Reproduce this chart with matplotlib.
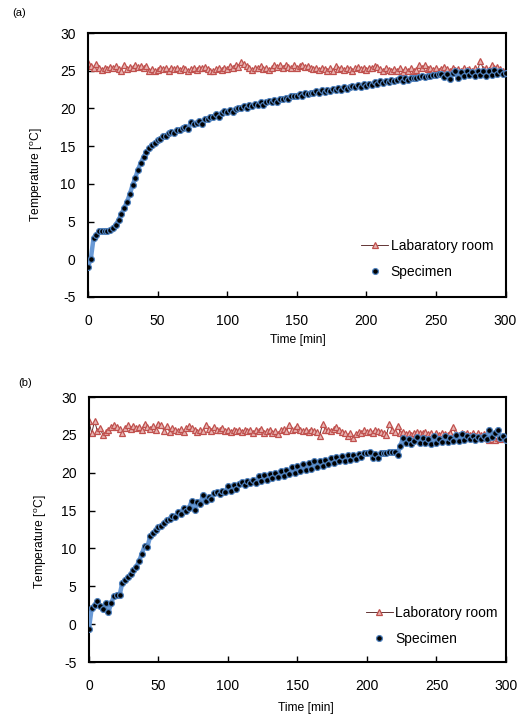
import matplotlib
matplotlib.use("Agg")
import matplotlib.pyplot as plt
import numpy as np

plt.rcParams['font.family'] = ['Liberation Sans', 'DejaVu Sans']
plt.rcParams['mathtext.fontset'] = 'custom'
plt.rcParams['mathtext.rm'] = 'Liberation Sans'
plt.rcParams['axes.unicode_minus'] = False

time_min = list(range(0, 301, 2))

spec_a = [-1.0, 0.0, 2.8, 3.2, 3.7, 3.8, 3.8, 3.8, 3.9, 4.1,
          4.6, 5.2, 6.0, 6.8, 7.6, 8.6, 9.8, 10.8, 11.9, 12.8,
          13.6, 14.2, 14.7, 15.2, 15.4, 15.8, 16.0, 16.3, 16.4, 16.7,
          16.9, 16.8, 17.2, 17.1, 17.4, 17.6, 17.3, 18.2, 17.9, 18.1,
          18.3, 18.0, 18.6, 18.6, 18.8, 18.9, 19.2, 18.9, 19.4, 19.6,
          19.5, 19.8, 19.5, 19.9, 20.0, 20.1, 20.3, 20.1, 20.5, 20.3,
          20.6, 20.4, 20.8, 20.5, 20.8, 21.0, 20.8, 21.1, 20.9, 21.3,
          21.2, 21.4, 21.2, 21.6, 21.7, 21.6, 21.9, 21.7, 22.0, 21.9,
          22.1, 22.0, 22.3, 22.1, 22.4, 22.2, 22.5, 22.3, 22.6, 22.5,
          22.7, 22.5, 22.8, 22.6, 22.9, 23.0, 22.8, 23.1, 22.9, 23.2,
          23.0, 23.3, 23.1, 23.5, 23.2, 23.6, 23.4, 23.7, 23.5, 23.8,
          23.6, 23.8, 24.0, 23.7, 24.0, 23.8, 24.0, 24.1, 24.1, 24.2,
          24.3, 24.2, 24.3, 24.3, 24.4, 24.4, 24.5, 24.5, 24.2, 24.6,
          23.9, 24.7, 24.9, 24.1, 24.8, 24.3, 24.9, 24.4, 24.8, 24.3,
          25.0, 24.4, 25.0, 24.3, 25.0, 24.4, 25.1, 24.6, 24.9, 24.5,
          24.7]

room_a = [26.0, 25.6, 25.3, 25.9, 25.4, 25.1, 25.3, 25.2, 25.5, 25.3,
          25.6, 25.2, 25.0, 25.8, 25.2, 25.5, 25.3, 25.7, 25.5, 25.6,
          25.4, 25.6, 25.0, 25.2, 24.9, 25.1, 25.3, 25.2, 25.4, 25.0,
          25.3, 25.2, 25.4, 25.1, 25.3, 25.2, 24.9, 25.2, 25.3, 25.1,
          25.4, 25.3, 25.5, 25.2, 25.0, 24.9, 25.2, 25.4, 25.1, 25.3,
          25.2, 25.6, 25.4, 25.8, 25.5, 26.2, 25.9, 25.6, 25.3, 25.1,
          25.4, 25.3, 25.6, 25.2, 25.3, 25.1, 25.4, 25.8, 25.5, 25.7,
          25.4, 25.8, 25.5, 25.3, 25.7, 25.4, 25.6, 25.8, 25.5, 25.6,
          25.3, 25.2, 25.4, 25.1, 25.3, 25.2, 25.0, 25.3, 25.0, 25.6,
          25.2, 25.4, 25.1, 25.3, 25.2, 25.0, 25.3, 25.5, 25.2, 25.3,
          25.1, 25.4, 25.3, 25.6, 25.5, 25.2, 25.0, 25.3, 25.1, 24.9,
          25.2, 25.0, 25.3, 24.8, 25.2, 25.0, 25.3, 24.9, 25.1, 25.7,
          25.3, 25.8, 25.2, 25.4, 25.1, 25.3, 25.0, 25.2, 25.5, 25.2,
          25.0, 25.3, 25.1, 25.2, 25.0, 25.3, 25.1, 25.2, 25.0, 25.3,
          25.1, 26.3, 25.2, 25.4, 25.1, 25.7, 25.3, 25.5, 25.2, 24.9,
          25.0]

spec_b = [-0.6, 2.2, 2.5, 3.0, 2.4, 2.0, 2.8, 1.6, 2.8, 3.7,
          3.9, 3.8, 5.5, 5.8, 6.2, 6.6, 7.1, 7.6, 8.3, 9.3,
          10.3, 10.2, 11.6, 12.0, 12.4, 12.8, 13.0, 13.4, 13.8, 13.9,
          14.3, 14.2, 14.8, 14.6, 15.4, 15.0, 15.4, 16.3, 15.1, 16.2,
          15.9, 17.0, 16.3, 16.8, 16.6, 17.3, 17.4, 17.2, 17.6, 17.4,
          18.2, 17.6, 18.4, 17.9, 18.5, 18.8, 18.4, 18.9, 18.6, 19.1,
          18.7, 19.6, 18.9, 19.7, 19.1, 19.8, 19.3, 20.0, 19.4, 20.2,
          19.6, 20.4, 19.8, 20.7, 20.0, 20.9, 20.3, 21.1, 20.4, 21.3,
          20.5, 21.5, 20.7, 21.6, 20.9, 21.7, 21.1, 21.9, 21.3, 22.1,
          21.5, 22.2, 21.6, 22.3, 21.7, 22.4, 21.8, 22.5, 22.1, 22.6,
          22.6, 22.7, 22.0, 22.5, 21.9, 22.6, 22.6, 22.6, 22.7, 22.7,
          22.8, 22.4, 23.6, 24.6, 24.0, 24.5, 23.8, 24.2, 24.7, 23.9,
          24.6, 24.0, 24.4, 23.8, 24.8, 24.0, 24.5, 24.1, 24.9, 24.1,
          24.6, 24.2, 25.0, 24.2, 25.1, 24.3, 24.9, 24.4, 24.8, 24.3,
          24.7, 24.4, 24.8, 24.5, 25.6, 24.7, 25.2, 25.7, 24.6, 24.9,
          24.3]

room_b = [26.8, 25.2, 26.9, 25.5, 25.9, 25.0, 25.4, 25.7, 26.1, 26.3,
          26.0, 25.8, 25.3, 25.9, 26.3, 25.8, 26.2, 25.9, 26.1, 25.7,
          26.5, 26.1, 25.8, 26.2, 25.6, 26.4, 26.3, 25.5, 26.2, 25.4,
          25.9, 25.7, 25.5, 25.8, 25.4, 25.9, 26.2, 25.9, 25.6, 25.4,
          25.6, 25.5, 26.3, 25.8, 25.5, 26.1, 25.7, 25.6, 25.9, 25.5,
          25.7, 25.4, 25.6, 25.5, 25.7, 25.4, 25.6, 25.5, 25.7, 25.3,
          25.6, 25.5, 25.8, 25.3, 25.5, 25.6, 25.3, 25.5, 25.1, 25.6,
          25.8, 25.5, 26.3, 25.6, 25.8, 26.2, 25.6, 25.5, 25.6, 25.4,
          25.6, 25.5, 25.4, 24.9, 26.5, 25.7, 25.6, 25.5, 25.8, 26.1,
          25.6, 25.4, 25.2, 24.8, 25.3, 24.6, 25.1, 25.4, 25.3, 25.6,
          25.4, 25.5, 25.3, 25.6, 25.5, 25.4, 25.2, 25.0, 26.4, 25.7,
          25.4, 26.2, 25.3, 25.4, 25.1, 25.3, 25.0, 25.3, 25.4, 25.2,
          25.3, 25.4, 25.1, 25.3, 24.9, 25.2, 25.0, 25.3, 25.1, 25.0,
          25.2, 26.0, 25.1, 25.0, 25.2, 25.1, 25.3, 25.0, 25.2, 24.9,
          25.2, 25.0, 25.1, 24.6, 24.3, 24.5, 24.3, 24.6, 24.5, 24.7,
          24.6]

panels = [
    dict(label='(a)', spec=spec_a, room=room_a, room_name='Labaratory room',
         rect=[0.1663, 0.5852, 0.7893, 0.3687], tag_xy=(12, 13),
         xl_xy=(298, 340), yl_xy=(37, 175), leg=(0.655, 0.07)),
    dict(label='(b)', spec=spec_b, room=room_b, room_name='Laboratory room',
         rect=[0.1682, 0.0754, 0.7883, 0.3700], tag_xy=(18, 383),
         xl_xy=(306, 708), yl_xy=(41, 542), leg=(0.665, 0.06)),
]

W, H = 529, 716
fig = plt.figure(figsize=(W / 100, H / 100), dpi=100)

red_edge = '#c0504d'
red_face = '#e8b4b2'
red_line = '#4a1414'
blue = '#4f81bd'

for p in panels:
    ax = fig.add_axes(p['rect'])
    ax.plot(time_min, p['room'], color=red_line, lw=0.6, marker='^',
            ms=3.8, mfc=red_face, mec=red_edge, mew=0.9,
            label=p['room_name'], zorder=2)
    ax.plot(time_min, p['spec'], color='#6a9ad6', lw=3.2, zorder=3,
            solid_capstyle='round')
    ax.plot(time_min, p['spec'], ls='none', marker='o', ms=4.2,
            mfc='black', mec=blue, mew=0.9, label='Specimen', zorder=4)
    ax.set_xlim(0, 300)
    ax.set_ylim(-5, 30)
    ax.set_xticks([0, 50, 100, 150, 200, 250, 300])
    ax.set_yticks([-5, 0, 5, 10, 15, 20, 25, 30])
    ax.tick_params(direction='in', length=4, width=1, labelsize=10)
    ax.tick_params(axis='x', pad=12)
    ax.tick_params(axis='y', pad=9)
    for s in ax.spines.values():
        s.set_linewidth(1.5)
    leg = ax.legend(loc='lower left', bbox_to_anchor=p['leg'], frameon=False,
                    fontsize=10, handlelength=1.9, handletextpad=0.2,
                    labelspacing=0.85, borderpad=0, borderaxespad=0)
    fig.text(p['tag_xy'][0] / W, 1 - p['tag_xy'][1] / H, p['label'],
             fontsize=8, ha='left', va='center')
    fig.text(p['xl_xy'][0] / W, 1 - p['xl_xy'][1] / H, 'Time [min]',
             fontsize=8.7, ha='center', va='center')
    fig.text(p['yl_xy'][0] / W, 1 - p['yl_xy'][1] / H,
             'Temperature [$^\\mathregular{o}$C]',
             fontsize=8.7, ha='center', va='center', rotation=90)

fig.savefig('out.png', dpi=100)
